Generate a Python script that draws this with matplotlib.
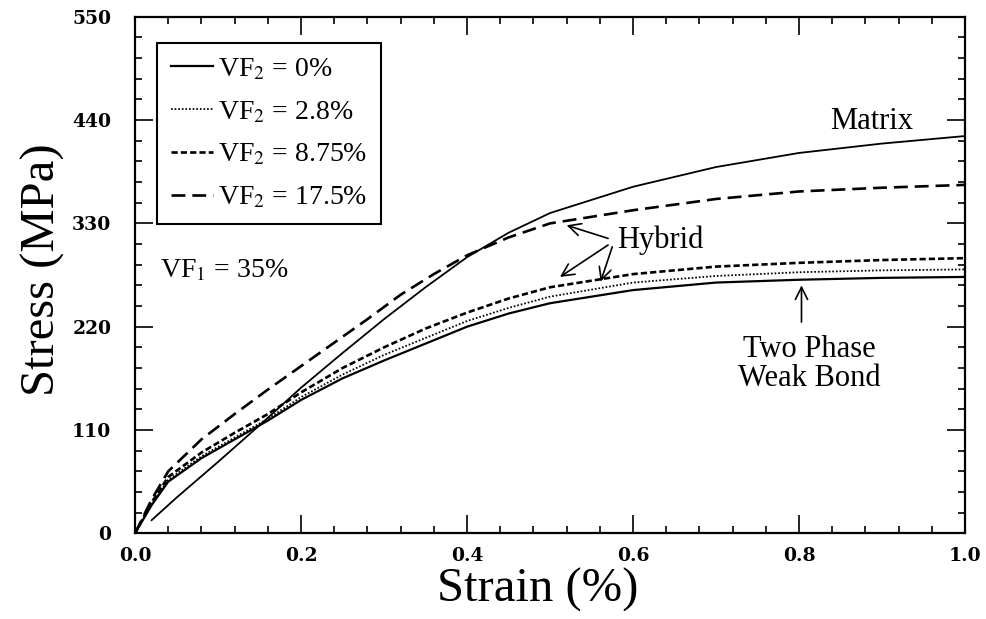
import matplotlib
matplotlib.use("Agg")
import matplotlib.pyplot as plt
import numpy as np
from matplotlib.ticker import MultipleLocator

plt.rcParams['font.family'] = ['Liberation Serif', 'DejaVu Serif']
plt.rcParams['mathtext.fontset'] = 'stix'
plt.rcParams['lines.scale_dashes'] = False

# strain (%) / stress (MPa)
strain_vf0 = [0, 0.02, 0.04, 0.08, 0.12, 0.16, 0.2, 0.25, 0.3, 0.35, 0.4, 0.45, 0.5, 0.6, 0.7, 0.8, 0.9, 1.0]
stress_vf0 = [0, 30, 55, 80, 100, 120, 142, 165, 184, 202, 220, 234, 245, 259, 267, 270, 272, 273]

strain_vf28 = [0, 0.02, 0.04, 0.08, 0.12, 0.16, 0.2, 0.25, 0.3, 0.35, 0.4, 0.45, 0.5, 0.6, 0.7, 0.8, 0.9, 1.0]
stress_vf28 = [0, 31, 57, 82, 102, 122, 145, 169, 190, 208, 226, 240, 252, 267, 274, 278, 280, 281]

strain_vf875 = [0, 0.02, 0.04, 0.08, 0.12, 0.16, 0.2, 0.25, 0.3, 0.35, 0.4, 0.45, 0.5, 0.6, 0.7, 0.8, 0.9, 1.0]
stress_vf875 = [0, 33, 60, 86, 107, 127, 150, 176, 198, 218, 235, 250, 262, 276, 284, 288, 291, 293]

strain_vf175 = [0, 0.02, 0.04, 0.08, 0.12, 0.16, 0.2, 0.24, 0.28, 0.32, 0.36, 0.4, 0.45, 0.5, 0.6, 0.7, 0.8, 0.9, 1.0]
stress_vf175 = [0, 36, 66, 100, 127, 153, 178, 203, 228, 254, 276, 296, 315, 330, 344, 356, 364, 368, 371]

strain_matrix = [0.02, 0.05, 0.1, 0.15, 0.2, 0.25, 0.3, 0.35, 0.4, 0.45, 0.5, 0.6, 0.7, 0.8, 0.9, 1.0]
stress_matrix = [14, 38, 76, 115, 155, 192, 228, 262, 294, 320, 341, 369, 390, 405, 415, 423]

labels = [r'VF$_2$ = 0%', r'VF$_2$ = 2.8%', r'VF$_2$ = 8.75%', r'VF$_2$ = 17.5%']

fig = plt.figure(figsize=(9.87, 6.19), dpi=100)
ax = fig.add_axes([0.1368, 0.1384, 0.8409, 0.8345])

ax.plot(strain_vf0, stress_vf0, color='black', lw=1.6, label=labels[0])
ax.plot(strain_vf28, stress_vf28, color='black', lw=1.3, linestyle=(0, (1.2, 1.4)), label=labels[1])
ax.plot(strain_vf875, stress_vf875, color='black', lw=1.9, linestyle=(0, (4.5, 2.2)), label=labels[2])
ax.plot(strain_vf175, stress_vf175, color='black', lw=1.9, linestyle=(0, (10, 5)), label=labels[3])
ax.plot(strain_matrix, stress_matrix, color='black', lw=1.3)

ax.set_xlim(0, 1.0)
ax.set_ylim(0, 550)
ax.xaxis.set_major_locator(MultipleLocator(0.2))
ax.xaxis.set_minor_locator(MultipleLocator(0.04))
ax.yaxis.set_major_locator(MultipleLocator(110))
ax.yaxis.set_minor_locator(MultipleLocator(22))
ax.xaxis.set_major_formatter(matplotlib.ticker.FormatStrFormatter('%.1f'))
ax.tick_params(which='both', direction='in', top=True, right=True, width=1.2)
ax.tick_params(which='major', length=13)
ax.tick_params(which='minor', length=5)
ax.tick_params(axis='x', pad=10)
ax.tick_params(axis='y', pad=17)
for lab in ax.get_xticklabels() + ax.get_yticklabels():
    lab.set_family('DejaVu Serif')
    lab.set_fontweight('bold')
    lab.set_fontsize(13.5)
for s in ax.spines.values():
    s.set_linewidth(1.6)

ax.set_xlabel('Strain (%)', fontsize=35, labelpad=2)
ax.xaxis.label.set_x(0.485)
ax.set_ylabel('Stress (MPa)', fontsize=35, labelpad=5)
ax.yaxis.label.set_y(0.51)

leg = ax.legend(loc='upper left', bbox_to_anchor=(0.0265, 0.95), borderaxespad=0,
                fontsize=20, handlelength=1.5, handletextpad=0.2, labelspacing=0.62,
                fancybox=False, edgecolor='black', framealpha=1, borderpad=0.5)
leg.get_frame().set_linewidth(1.5)

ax.text(0.03, 280, r'VF$_1$ = 35%', fontsize=20, va='center', ha='left')
ax.text(0.887, 439, 'Matrix', fontsize=22, va='center', ha='center')
ax.text(0.581, 312, 'Hybrid', fontsize=22, va='center', ha='left')
ax.text(0.812, 180, 'Two Phase\nWeak Bond', fontsize=22, va='center', ha='center', linespacing=1.0)

arrow = dict(arrowstyle='->', lw=1.2, color='black', mutation_scale=22, shrinkA=0, shrinkB=0)
ax.annotate('', xy=(0.520, 328), xytext=(0.570, 314), arrowprops=arrow)
ax.annotate('', xy=(0.512, 273), xytext=(0.570, 307), arrowprops=arrow)
ax.annotate('', xy=(0.561, 268), xytext=(0.575, 305), arrowprops=arrow)
ax.annotate('', xy=(0.803, 264), xytext=(0.803, 225), arrowprops=arrow)

fig.savefig('out.png', dpi=100)
